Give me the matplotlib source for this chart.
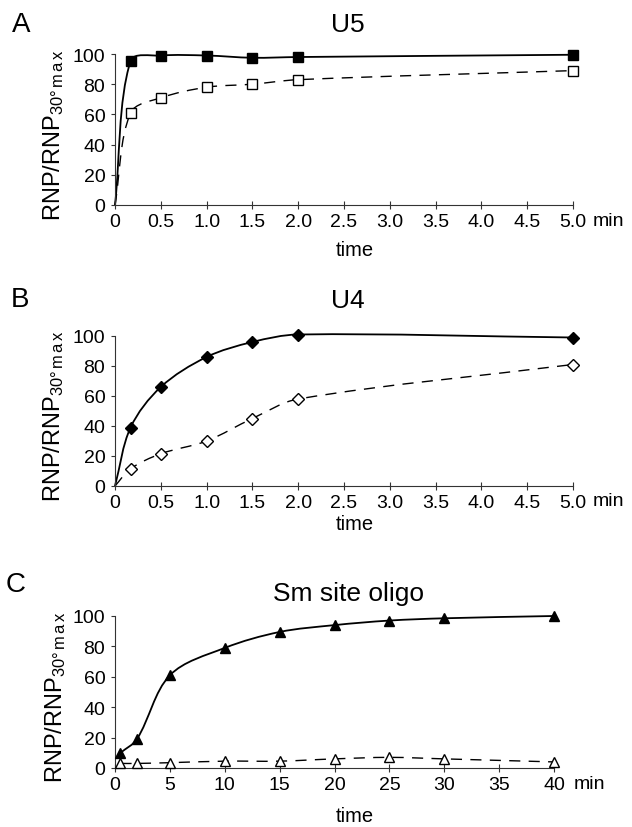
import numpy as np
import matplotlib
matplotlib.use("Agg")
import matplotlib.pyplot as plt
from matplotlib.path import Path
from matplotlib.patches import PathPatch

plt.rcParams['font.family'] = ['Liberation Sans', 'DejaVu Sans']
plt.rcParams['mathtext.fontset'] = 'custom'
plt.rcParams['mathtext.rm'] = 'Liberation Sans'
plt.rcParams['mathtext.it'] = 'Liberation Sans'

# ---- data ----
time_ab = [0, 0.17, 0.5, 1.0, 1.5, 2.0, 5.0]
u5_filled = [0, 95.5, 99, 99, 97.5, 98, 99.5]
u5_open = [0, 61, 71, 78, 80, 83, 89]
u4_filled = [0, 39, 66, 86, 96, 101, 99]
u4_open = [0, 11.5, 21.5, 30, 45, 58, 81]

time_c = [0.5, 2, 5, 10, 15, 20, 25, 30, 40]
sm_filled = [10, 19, 61, 79, 89.5, 94, 97, 98.5, 100]
sm_open = [3, 3, 3.5, 4.5, 4.5, 6, 7, 6, 4]

xticks_ab = [0, 0.5, 1.0, 1.5, 2.0, 2.5, 3.0, 3.5, 4.0, 4.5, 5.0]
xticklabels_ab = ['0', '0.5', '1.0', '1.5', '2.0', '2.5', '3.0', '3.5', '4.0', '4.5', '5.0']
xticks_c = [0, 5, 10, 15, 20, 25, 30, 35, 40]
xticklabels_c = ['0', '5', '10', '15', '20', '25', '30', '35', '40']
yticks = [0, 20, 40, 60, 80, 100]

titles = ['U5', 'U4', 'Sm site oligo']
letters = ['A', 'B', 'C']

W, H = 632, 828
fig = plt.figure(figsize=(W / 100, H / 100), dpi=100)


def smooth_path(ax, x, y):
    pts = np.column_stack([np.asarray(x, float), np.asarray(y, float)])
    disp = ax.transData.transform(pts)
    n = len(pts)
    verts = [pts[0]]
    codes = [Path.MOVETO]

    def seg(i, j):
        return float(np.hypot(*(disp[j] - disp[i])))

    for i in range(n - 1):
        i0 = max(i - 1, 0)
        i3 = min(i + 2, n - 1)
        p0, p1, p2, p3 = pts[i0], pts[i], pts[i + 1], pts[i3]
        d01, d12, d23 = seg(i0, i), seg(i, i + 1), seg(i + 1, i3)
        w1 = d12 / (d01 + d12) if (d01 + d12) > 0 else 0
        w2 = d12 / (d12 + d23) if (d12 + d23) > 0 else 0
        c1 = p1 + (p2 - p0) * w1 / 3.0
        c2 = p2 - (p3 - p1) * w2 / 3.0
        verts += [c1, c2, p2]
        codes += [Path.CURVE4] * 3
    return Path(verts, codes)


def px_ax(left, right, y0, y100):
    return [left / W, 1 - y0 / H, (right - left) / W, (y0 - y100) / H]


axes_specs = [
    px_ax(115, 573, 206, 55),
    px_ax(115, 573, 487, 337),
    px_ax(115, 554, 769, 617),
]

ylabel = r'RNP/RNP$_{\mathregular{30°\,m\,a\,x}}$'
axcol = '#333333'


def style_axis(ax, xlim, xt, xtl):
    ax.set_xlim(*xlim)
    ax.set_ylim(0, 100)
    for s in ['top', 'right']:
        ax.spines[s].set_visible(False)
    for s in ['left', 'bottom']:
        ax.spines[s].set_linewidth(0.8)
        ax.spines[s].set_color(axcol)
    ax.set_xticks(xt)
    ax.set_xticklabels(xtl)
    ax.set_yticks(yticks)
    ax.tick_params(axis='x', direction='inout', length=6, width=0.8, color=axcol,
                   labelsize=14, pad=3)
    ax.tick_params(axis='y', direction='out', length=3, width=0.8, color=axcol,
                   labelsize=14, pad=4)
    ax.set_ylabel(ylabel, fontsize=17)
    ax.yaxis.set_label_coords(-0.108, 0.47)
    ax.patch.set_alpha(0)


def draw_series(ax, x, y, marker, filled, ms, dashed, skip_first):
    ls = (0, (8, 6)) if dashed else '-'
    lw = 1.0 if dashed else 1.3
    patch = PathPatch(smooth_path(ax, x, y), fill=False, edgecolor='black', lw=lw,
                      linestyle=ls, clip_on=False, zorder=2)
    ax.add_patch(patch)
    xm = x[1:] if skip_first else x
    ym = y[1:] if skip_first else y
    ax.plot(xm, ym, ls='none', marker=marker, ms=ms,
            mfc='black' if filled else 'white', mec='black', mew=1.0,
            clip_on=False, zorder=3)


# Panel A
axA = fig.add_axes(axes_specs[0])
style_axis(axA, (0, 5.0), xticks_ab, xticklabels_ab)
draw_series(axA, time_ab, u5_open, 's', False, 6.5, True, True)
draw_series(axA, time_ab, u5_filled, 's', True, 7, False, True)

# Panel B
axB = fig.add_axes(axes_specs[1])
style_axis(axB, (0, 5.0), xticks_ab, xticklabels_ab)
draw_series(axB, time_ab, u4_open, 'D', False, 6, True, True)
draw_series(axB, time_ab, u4_filled, 'D', True, 6.5, False, True)

# Panel C
axC = fig.add_axes(axes_specs[2])
style_axis(axC, (0, 40), xticks_c, xticklabels_c)
draw_series(axC, time_c, sm_open, '^', False, 7, True, False)
draw_series(axC, time_c, sm_filled, '^', True, 7.5, False, False)

# texts
title_y = [25, 301, 594]
letter_pos = [(12, 25), (11, 300), (6, 585)]
time_y = [250, 524, 817]
min_y = [221, 502, 785]
axes_list = [axA, axB, axC]
for i, ax in enumerate(axes_list):
    fig.text(348 / W, 1 - title_y[i] / H, titles[i], ha='center', va='center', fontsize=19)
    lx, ly = letter_pos[i]
    fig.text(lx / W, 1 - ly / H, letters[i], ha='left', va='center', fontsize=20)
    fig.text(355 / W, 1 - time_y[i] / H, 'time', ha='center', va='center', fontsize=14.5)
    right_px = 573 if i < 2 else 554
    fig.text((right_px + 20) / W, 1 - min_y[i] / H, 'min', ha='left', va='center', fontsize=14)

fig.savefig('out.png', dpi=100)
